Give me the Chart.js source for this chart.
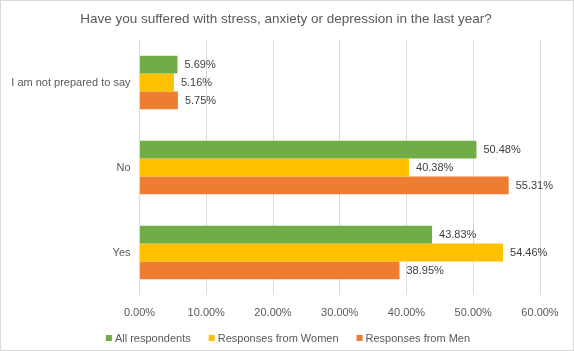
<!DOCTYPE html>
<html>
<head>
<meta charset="utf-8">
<script src="https://cdn.jsdelivr.net/npm/chart.js@4/dist/chart.umd.min.js"></script>
<style>
html,body{margin:0;padding:0;background:#fff;}
#wrap{width:574px;height:351px;position:relative;}
</style>
</head>
<body>
<div id="wrap"><canvas id="c" width="574" height="351"></canvas></div>
<script>
const categories = ["I am not prepared to say", "No", "Yes"];
const allRespondents = [5.69, 50.48, 43.83];
const womenResponses = [5.16, 40.38, 54.46];
const menResponses = [5.75, 55.31, 38.95];
const seriesNames = ["All respondents", "Responses from Women", "Responses from Men"];
const seriesColors = ['#70AD47', '#FFC000', '#ED7D31'];
const xTicks = [0, 10, 20, 30, 40, 50, 60];
const titleText = "Have you suffered with stress, anxiety or depression in the last year?";

const FONT = "'Liberation Sans', Arial, sans-serif";

const customPlugin = {
  id: 'customDraw',
  afterDatasetsDraw(chart) {
    const ctx = chart.ctx;
    ctx.save();
    ctx.font = "11px " + FONT;
    ctx.fillStyle = "#404040";
    ctx.textAlign = "left";
    ctx.textBaseline = "middle";
    chart.data.datasets.forEach((ds, i) => {
      const meta = chart.getDatasetMeta(i);
      meta.data.forEach((bar, j) => {
        ctx.fillText(ds.data[j].toFixed(2) + "%", bar.x + 7, bar.y + 0.5);
      });
    });
    ctx.restore();
  },
  afterDraw(chart) {
    const ctx = chart.ctx;
    ctx.save();
    // title
    ctx.font = "13.5px " + FONT;
    ctx.fillStyle = "#595959";
    ctx.textAlign = "center";
    ctx.textBaseline = "middle";
    ctx.fillText(titleText, 286, 19.5);
    // legend
    ctx.font = "11px " + FONT;
    ctx.textAlign = "left";
    const box = 6, gapBT = 3, gapItem = 18;
    const items = chart.data.datasets.map(ds => ({ label: ds.label, color: ds.backgroundColor, w: ctx.measureText(ds.label).width }));
    let total = items.reduce((s, it) => s + box + gapBT + it.w, 0) + gapItem * (items.length - 1);
    let x = 288 - total / 2;
    const y = 338;
    items.forEach(it => {
      ctx.fillStyle = it.color;
      ctx.fillRect(x, y - 3, box, box);
      x += box + gapBT;
      ctx.fillStyle = "#595959";
      ctx.fillText(it.label, x, y + 0.5);
      x += it.w + gapItem;
    });
    // border
    ctx.strokeStyle = "#D9D9D9";
    ctx.lineWidth = 1;
    ctx.strokeRect(0.5, 0.5, chart.width - 1, chart.height - 1);
    ctx.restore();
  }
};

new Chart(document.getElementById('c'), {
  type: 'bar',
  data: {
    labels: categories,
    datasets: [
      { label: seriesNames[0], data: allRespondents, backgroundColor: seriesColors[0] },
      { label: seriesNames[1], data: womenResponses, backgroundColor: seriesColors[1] },
      { label: seriesNames[2], data: menResponses, backgroundColor: seriesColors[2] }
    ]
  },
  options: {
    indexAxis: 'y',
    responsive: false,
    animation: false,
    categoryPercentage: 0.627,
    barPercentage: 1.0,
    layout: { padding: { left: 0, right: 34, top: 40, bottom: 0 } },
    plugins: {
      title: { display: false },
      legend: { display: false },
      tooltip: { enabled: false }
    },
    scales: {
      x: {
        min: 0,
        max: 60,
        afterBuildTicks(scale) { scale.ticks = xTicks.map(v => ({ value: v })); },
        afterFit(scale) { scale.height = 56; },
        ticks: {
          color: '#595959',
          font: { family: FONT, size: 11 },
          callback: (v) => Number(v).toFixed(2) + "%",
          padding: 11
        },
        grid: { color: '#D9D9D9', drawTicks: false },
        border: { display: false }
      },
      y: {
        afterFit(scale) { scale.width = 139.5; },
        ticks: {
          color: '#595959',
          font: { family: FONT, size: 11 },
          padding: 9
        },
        grid: { display: false, drawTicks: false },
        border: { display: false }
      }
    }
  },
  plugins: [customPlugin]
});
</script>
</body>
</html>
